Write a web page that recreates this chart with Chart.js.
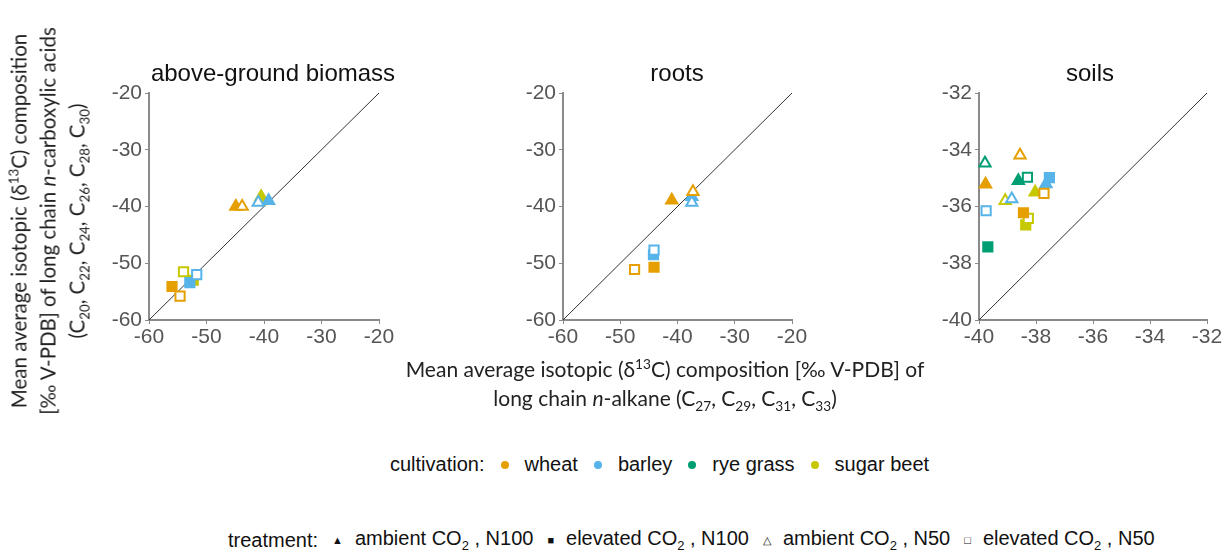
<!DOCTYPE html>
<html>
<head>
<meta charset="utf-8">
<script src="https://cdn.jsdelivr.net/npm/chart.js@4.4.1/dist/chart.umd.min.js"></script>
<style>
  body { margin: 0; background: #fff; width: 1223px; height: 551px; position: relative; overflow: hidden; }
  canvas { position: absolute; }
  .title { position: absolute; top: 59px; transform: translateX(-50%); font: 24px "Liberation Sans", Arial, sans-serif; color: #111; white-space: nowrap; }
  .axtitle { position: absolute; font-family: Lato, "Open Sans", sans-serif; color: #222; text-align: center; white-space: nowrap; }
  .axtitle sub, .axtitle sup { font-size: 65%; line-height: 0; }
  .legend { position: absolute; font: 20px "Liberation Sans", Arial, sans-serif; color: #111; white-space: nowrap; display: flex; align-items: center; }
  .legend .dot { display: inline-block; width: 8px; height: 8px; border-radius: 50%; margin: 0 16px 0 16px; }
  .legend .sym { font-size: 11px; margin: 0 12px 0 14px; }
  .legend sub { font-size: 65%; }
</style>
</head>
<body>
<canvas id="c1" width="330" height="300" style="left:79px;top:55px"></canvas>
<canvas id="c2" width="329" height="300" style="left:493px;top:55px"></canvas>
<canvas id="c3" width="328" height="300" style="left:909px;top:55px"></canvas>

<div class="title" style="left:273px">above-ground biomass</div>
<div class="title" style="left:677px">roots</div>
<div class="title" style="left:1090px">soils</div>

<div class="axtitle" style="left:48px;top:221px;width:460px;font-size:20.5px;line-height:29px;transform:translate(-50%,-50%) rotate(-90deg)">
  Mean average isotopic (δ<sup>13</sup>C) composition<br>
  [‰ V-PDB] of long chain <i>n</i>-carboxylic acids<br>
  (C<sub>20</sub>, C<sub>22</sub>, C<sub>24</sub>, C<sub>26</sub>, C<sub>28</sub>, C<sub>30</sub>)
</div>
<div class="axtitle" style="left:665px;top:383px;font-size:21px;line-height:29px;transform:translate(-50%,-50%)">
  Mean average isotopic (δ<sup>13</sup>C) composition [‰ V-PDB] of<br>
  long chain <i>n</i>-alkane (C<sub>27</sub>, C<sub>29</sub>, C<sub>31</sub>, C<sub>33</sub>)
</div>

<div class="legend" id="leg1" style="left:390px;top:453px"></div>
<div class="legend" id="leg2" style="left:228px;top:527px"></div>

<script>
// cultivations and treatments
const crops = ["wheat", "barley", "rye grass", "sugar beet"];
const cropColors = ["#E69F00", "#56B4E9", "#009E73", "#C6C800"];
const treatments = ["ambient CO<sub>2</sub> , N100", "elevated CO<sub>2</sub> , N100", "ambient CO<sub>2</sub> , N50", "elevated CO<sub>2</sub> , N50"];
const treatmentShapes = ["triangle", "rect", "triangle", "rect"];
const treatmentFilled = [true, true, false, false];
const treatmentSymbols = ["▲", "■", "△", "□"];

// [x = n-alkane δ13C, y = n-carboxylic acid δ13C], one pair per treatment (order as above)
const biomassWheat = [[-44.9, -40.0], [-56.0, -54.1], [-43.8, -40.0], [-54.6, -55.8]];
const biomassBarley = [[-39.2, -39.0], [-52.9, -53.4], [-41.0, -39.3], [-51.7, -52.0]];
const biomassRye = [null, null, null, null];
const biomassBeet = [[-40.5, -38.3], [-52.3, -53.0], [-40.8, -39.1], [-54.0, -51.5]];

const rootsWheat = [[-41.0, -38.9], [-44.1, -50.7], [-37.3, -37.4], [-47.5, -51.1]];
const rootsBarley = [[-37.5, -38.3], [-44.2, -48.5], [-37.5, -39.3], [-44.1, -47.7]];
const rootsRye = [null, null, null, null];
const rootsBeet = [null, null, null, null];

const soilsWheat = [[-39.77, -35.22], [-38.44, -36.22], [-38.56, -34.19], [-37.72, -35.54]];
const soilsBarley = [[-37.65, -35.21], [-37.53, -34.98], [-38.85, -35.74], [-39.75, -36.15]];
const soilsRye = [[-38.62, -35.09], [-39.69, -37.42], [-39.79, -34.48], [-38.30, -34.97]];
const soilsBeet = [[-38.03, -35.50], [-38.36, -36.65], [-39.08, -35.80], [-38.27, -36.42]];

// axis ranges and tick steps
const biomassRange = [-60, -20];
const rootsRange = [-60, -20];
const soilsRange = [-40, -32];
const biomassStep = 10;
const rootsStep = 10;
const soilsStep = 2;

function makeDatasets(series) {
  const sets = [];
  series.forEach((pairs, ci) => {
    const pts = [], styles = [], fills = [];
    pairs.forEach((p, ti) => {
      if (!p) return;
      pts.push({ x: p[0], y: p[1] });
      styles.push(treatmentShapes[ti]);
      fills.push(treatmentFilled[ti] ? cropColors[ci] : "#ffffff");
    });
    sets.push({
      type: "scatter",
      label: crops[ci],
      data: pts,
      pointStyle: styles,
      pointBackgroundColor: fills,
      pointBorderColor: cropColors[ci],
      pointBorderWidth: 2,
      pointRadius: 6.5,
      pointHoverRadius: 6.5,
      clip: false,
      order: 1,
    });
  });
  return sets;
}

function makeChart(id, series, range, step) {
  const axisBase = {
    type: "linear",
    min: range[0],
    max: range[1],
    border: { display: true, color: "#8a8a8a", width: 2 },
    grid: { drawOnChartArea: false, drawTicks: true, tickLength: 4, color: "#8a8a8a" },
  };
  const tickFont = { family: "Liberation Sans, Arial, sans-serif", size: 21 };
  const oneToOne = {
    type: "line",
    label: "1:1",
    data: [{ x: range[0], y: range[0] }, { x: range[1], y: range[1] }],
    borderColor: "#333",
    borderWidth: 1,
    pointRadius: 0,
    fill: false,
    order: 2,
  };
  return new Chart(document.getElementById(id).getContext("2d"), {
    type: "scatter",
    data: { datasets: [oneToOne, ...makeDatasets(series)] },
    options: {
      responsive: false,
      animation: false,
      layout: { padding: { top: 38, right: 30, left: 0, bottom: 0 } },
      plugins: { legend: { display: false }, tooltip: { enabled: false } },
      scales: {
        x: {
          ...axisBase,
          position: "bottom",
          ticks: { stepSize: step, font: tickFont, color: "#555", padding: 1, maxRotation: 0 },
          afterFit: (s) => { s.height = 35; },
        },
        y: {
          ...axisBase,
          position: "left",
          ticks: { stepSize: step, font: tickFont, color: "#555", padding: 3 },
          afterFit: (s) => { s.width = 70; },
        },
      },
    },
  });
}

makeChart("c1", [biomassWheat, biomassBarley, biomassRye, biomassBeet], biomassRange, biomassStep);
makeChart("c2", [rootsWheat, rootsBarley, rootsRye, rootsBeet], rootsRange, rootsStep);
makeChart("c3", [soilsWheat, soilsBarley, soilsRye, soilsBeet], soilsRange, soilsStep);

// legends
const leg1 = document.getElementById("leg1");
leg1.innerHTML = "cultivation:" + crops.map((c, i) =>
  `<span class="dot" style="background:${cropColors[i]}"></span>${c}`).join("");
const leg2 = document.getElementById("leg2");
leg2.innerHTML = "treatment:" + treatments.map((t, i) =>
  `<span class="sym">${treatmentSymbols[i]}</span><span>${t}</span>`).join("");
</script>
</body>
</html>
